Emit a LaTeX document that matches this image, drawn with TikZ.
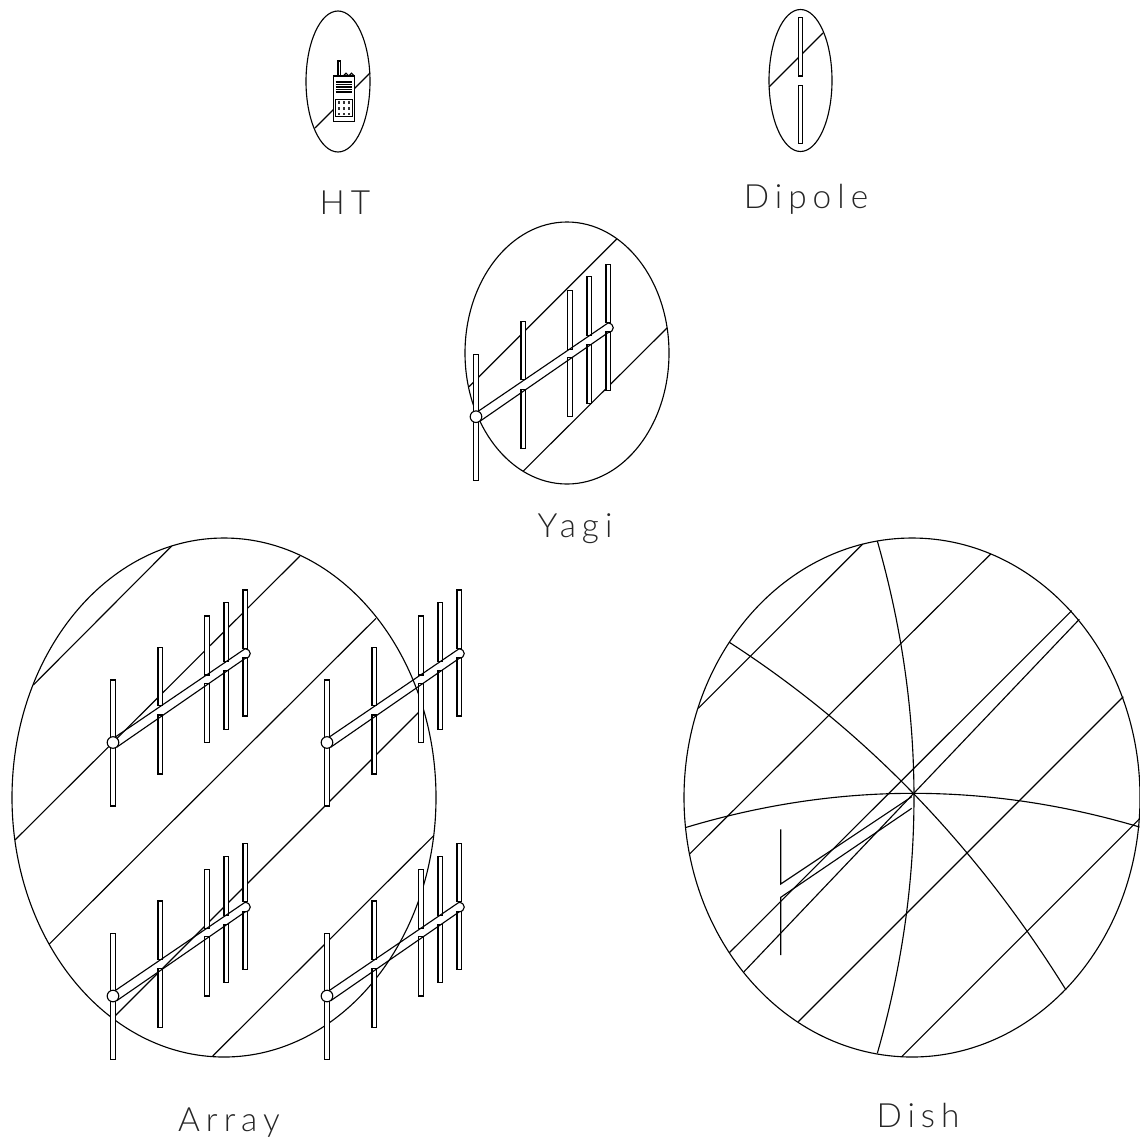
\documentclass[tikz,border=0pt]{standalone}
\usepackage{fontspec}
\newfontfamily\labelfont[LetterSpace=18]{Lato Light}
\usetikzlibrary{positioning}
\tikzset{
    wire/.style={line width=0.32pt, black},
    elem/.style={wire, fill=white},
    caption/.style={font=\labelfont\fontsize{9.5}{11}\selectfont, inner sep=0pt, anchor=base, text=black!85},
}
% one yagi, circle centre at #1,#2
\newcommand{\yagiant}[2]{
    \begin{scope}[shift={(#1,#2)}]
        \foreach \ex/\ea/\eb/\ec/\ed in {47.3/-95/-36.8/-27.5/31.5, 94/-126.5/-67.5/-59.2/0, 113.3/-139.8/-80.8/-71.8/-13.2, 132.3/-152.5/-94.2/-84.8/-26.5} {
            \draw[elem] (\ex-2.35,\ea) rectangle (\ex+2.35,\eb);
            \draw[elem] (\ex-2.35,\ec) rectangle (\ex+2.35,\ed);
        }
        \draw[elem] (-2.35,-62.5) rectangle (2.35,-5);
        \draw[elem] (-2.35,5) rectangle (2.35,63.5);
        % boom
        \draw[wire] (2,-5.3) -- (132,-93.7) .. controls (139,-93) and (139,-85) .. (132,-84) -- (3.7,4.7);
        \draw[elem] (0,0) circle (5.8);
    \end{scope}
}

\begin{document}
\begin{tikzpicture}[x=0.1mm, y=-0.1mm]
    \useasboundingbox (0,0) rectangle (1140,1139);
    % HT
    \draw[wire] (338,81.5) ellipse [x radius=32, y radius=70.5];
    \draw[wire] (315,128) -- (370,73);
    \draw[elem] (338,61) rectangle (340.4,76);
    \draw[elem] (346,75) circle (1.8);
    \draw[elem] (351.5,75) circle (1.8);
    \draw[elem, line width=0.45pt] (333.3,76) rectangle (354.3,121.7);
    \foreach \sy in {82,84.5,87,89.5,92} {
        \draw[wire] (335.7,\sy) -- (351.7,\sy);
    }
    \draw[wire] (335.7,99.3) rectangle (352.3,116.7);
    \foreach \kx in {339,344,349} {
        \foreach \ky in {102.7,108.3,114} {
            \fill[black!80] (\kx-1.3,\ky-1.3) rectangle (\kx+1.3,\ky+1.3);
        }
    }
    \node[caption] (htlabel) at (345,214) {HT};
    % Dipole
    \draw[wire] (800.5,80.5) ellipse [x radius=31.5, y radius=71];
    \draw[wire] (769,87) -- (823,33);
    \draw[elem] (798.3,17.7) rectangle (802.7,76);
    \draw[elem] (798.3,85.7) rectangle (802.7,143.3);
    \node[caption] (dipolelabel) at (806,208) {Dipole};
    % Yagi
    \draw[wire] (567,353) ellipse [x radius=102, y radius=131];
    \draw[wire] (469,386.7) -- (616.7,239);
    \draw[wire] (523.3,471) -- (667.3,327.7);
    \yagiant{476}{416.7}
    \node[caption] (yagilabel) at (575,537) {Yagi};
    % Array
    \draw[wire] (224,797.5) ellipse [x radius=212, y radius=259.5];
    \draw[wire] (33.3,685) -- (171.7,546);
    \draw[wire] (15,840) -- (300,556);
    \draw[wire] (49.3,944) -- (376,618.3);
    \draw[wire] (112.7,1018.3) -- (423,708);
    \draw[wire] (212.7,1056) -- (433.3,836);
    \foreach \ax/\ay in {113/742.5, 327/742.5, 113/996, 327/996} {
        \yagiant{\ax}{\ay}
    }
    \node[caption] (arraylabel) at (229,1131) {Array};
    % Dish
    \draw[wire] (912,797.5) ellipse [x radius=228, y radius=259.5];
    \draw[wire] (877.3,541) .. controls (926.2,712) and (926.2,883) .. (877.3,1053.3);
    \draw[wire] (685.7,827.5) .. controls (837,782) and (988,782) .. (1139.5,827);
    \draw[wire] (729.3,642.3) .. controls (863.4,728.9) and (975.7,844.8) .. (1066,990);
    \draw[wire] (698.3,708.3) -- (862.7,544);
    \draw[wire] (689.3,854.3) -- (990.7,554);
    \draw[wire] (729.3,952.7) -- (1071.7,610.7);
    \draw[wire] (744,971.7) -- (1079.3,619.3);
    \draw[wire] (798.3,1021.7) -- (1123.3,696.7);
    \draw[wire] (901.7,1056.7) -- (1140,818.3);
    % feed
    \draw[wire] (780.7,829.3) -- (780.7,884) -- (911.7,796.7);
    \draw[wire] (780.7,955) -- (780.7,897.3) -- (911.7,808.3);
    \node[caption] (dishlabel) at (918,1127) {Dish};
\end{tikzpicture}
\end{document}
